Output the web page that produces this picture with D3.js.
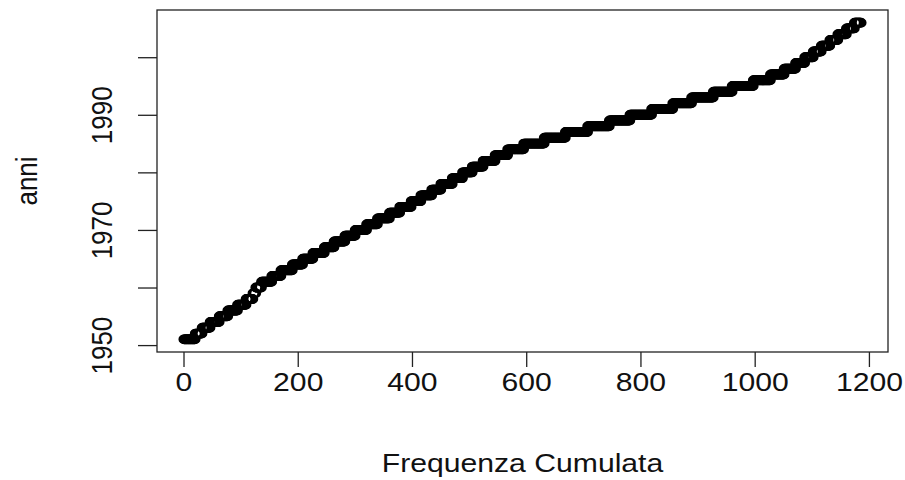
<!DOCTYPE html>
<html>
<head>
<meta charset="utf-8">
<script src="https://cdn.jsdelivr.net/npm/d3@7"></script>
<style>
body{margin:0;background:#fff;}
text{font-family:"Liberation Sans",Arial,sans-serif;}
</style>
</head>
<body>
<svg width="905" height="480"></svg>
<script>
'use strict';

let years = [1951,1952,1953,1954,1955,1956,1957,1958,1959,1960,
             1961,1962,1963,1964,1965,1966,1967,1968,1969,1970,
             1971,1972,1973,1974,1975,1976,1977,1978,1979,1980,
             1981,1982,1983,1984,1985,1986,1987,1988,1989,1990,
             1991,1992,1993,1994,1995,1996,1997,1998,1999,2000,
             2001,2002,2003,2004,2005,2006];
let counts = [20,12,14,16,15,17,15,12,5,10,
              18,16,20,18,18,20,17,19,18,20,
              19,21,18,20,17,19,16,20,18,17,
              19,21,22,28,36,37,39,38,36,38,
              37,33,38,33,37,30,24,20,16,15,
              14,15,14,15,14,12];
let xTicks = [0,200,400,600,800,1000,1200];
let yTicks = [1950,1960,1970,1980,1990,2000];
let yLabels = [1950,1970,1990];

let svg = d3.select("svg"),
    width = +svg.attr("width"),
    height = +svg.attr("height"),
    marge = {top:10,bottom:128,left:157,right:17};
let stretch = 1.16;   // the picture is a bit wider than tall

// one point per observation: x = cumulated frequency, y = year
let points = [];
let cum = 0;
years.forEach(function(yr,i){
    for(let j=0;j<counts[i];j++){
        cum++;
        points.push({x:cum,y:yr});
    }
});

// R adds 4% on each side of the data range
function rRange(lo,hi){
    let p = (hi-lo)*0.04;
    return [lo-p,hi+p];
}

let x = d3.scaleLinear()
        .domain(rRange(1,cum))
        .range([marge.left,width-marge.right]);
let y = d3.scaleLinear()
        .domain(rRange(d3.min(years),d3.max(years)))
        .range([height-marge.bottom,marge.top]);

svg.append("rect")
    .attr("width",width)
    .attr("height",height)
    .attr("fill","white");

svg.append("g")
    .selectAll("ellipse")
    .data(points)
    .enter()
    .append("ellipse")
    .attr("cx",function(d){ return x(d.x); })
    .attr("cy",function(d){ return y(d.y); })
    .attr("rx",4.9)
    .attr("ry",4.2)
    .attr("fill","none")
    .attr("stroke","black")
    .attr("stroke-width",1.5);

let xAxis = svg.append("g")
    .attr("transform","translate(0,"+(height-marge.bottom)+")")
    .call(d3.axisBottom(x).tickValues(xTicks).tickSize(15).tickSizeOuter(0)
        .tickFormat(d3.format("d")));
xAxis.select(".domain").remove();
xAxis.attr("font-size",26).attr("font-family",null);
xAxis.selectAll("line").attr("stroke","#222").attr("stroke-width",1.3);
xAxis.selectAll("text")
    .attr("y",0)
    .attr("dy",0)
    .attr("fill","#111")
    .attr("transform","translate(0,39) scale("+stretch+",1)");

let yAxis = svg.append("g")
    .attr("transform","translate("+marge.left+",0)")
    .call(d3.axisLeft(y).tickValues(yTicks).tickSize(19).tickSizeOuter(0)
        .tickFormat(function(d){ return yLabels.indexOf(d) >= 0 ? d : ""; }));
yAxis.select(".domain").remove();
yAxis.attr("font-size",26).attr("font-family",null);
yAxis.selectAll("line").attr("stroke","#222").attr("stroke-width",1.3);
yAxis.selectAll("text")
    .attr("x",0)
    .attr("dy",0)
    .attr("fill","#111")
    .attr("text-anchor","middle")
    .attr("transform","translate(-45,0) scale("+stretch+",1) rotate(-90)");

svg.append("rect")
    .attr("x",marge.left)
    .attr("y",marge.top)
    .attr("width",width-marge.left-marge.right)
    .attr("height",height-marge.top-marge.bottom)
    .attr("fill","none")
    .attr("stroke","#222")
    .attr("stroke-width",1.3);

svg.append("text")
    .attr("transform","translate(37,"+((marge.top+height-marge.bottom)/2)+") scale("+stretch+",1) rotate(-90)")
    .attr("text-anchor","middle")
    .attr("font-size",26)
    .attr("fill","#111")
    .text("anni");

svg.append("text")
    .attr("transform","translate("+((marge.left+width-marge.right)/2)+",472) scale("+stretch+",1)")
    .attr("text-anchor","middle")
    .attr("font-size",26)
    .attr("fill","#111")
    .text("Frequenza Cumulata");
</script>
</body>
</html>
